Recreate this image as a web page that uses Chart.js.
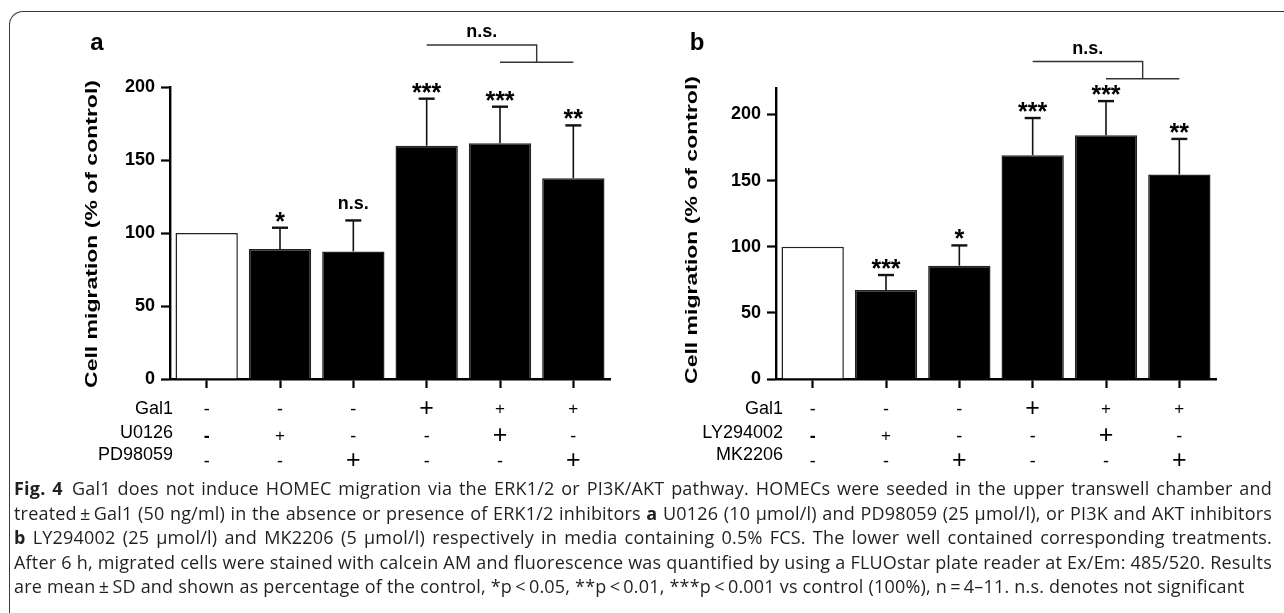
<!DOCTYPE html>
<html>
<head>
<meta charset="utf-8">
<script src="https://cdn.jsdelivr.net/npm/chart.js@4.4.1/dist/chart.umd.min.js"></script>
<style>
  html, body { margin: 0; padding: 0; background: #fff; }
  body { width: 1284px; height: 613px; position: relative; overflow: hidden; }
  #frame { position: absolute; left: 9px; top: 11px; width: 1400px; height: 700px;
    border-left: 1.3px solid #3a3a3a; border-top: 1.3px solid #3a3a3a; border-top-left-radius: 14px; }
  #wrapA { position: absolute; left: 0; top: 0; }
  #wrapB { position: absolute; left: 640px; top: 0; }
  #caption { position: absolute; left: 14px; top: 476px; width: 1258px;
    font-family: "Open Sans", sans-serif; font-size: 18px; letter-spacing: 0.2px; line-height: 24.5px; color: #231f20; }
  #caption div { white-space: nowrap; text-align: justify; text-align-last: justify; }
  #caption div.last { text-align-last: left; }
</style>
</head>
<body>
<div id="frame"></div>
<div id="wrapA"><canvas id="chartA" width="640" height="480"></canvas></div>
<div id="wrapB"><canvas id="chartB" width="644" height="480"></canvas></div>
<div id="caption">
  <div><b>Fig. 4</b>&ensp;Gal1 does not induce HOMEC migration via the ERK1/2 or PI3K/AKT pathway. HOMECs were seeded in the upper transwell chamber and</div>
  <div>treated&thinsp;±&thinsp;Gal1 (50 ng/ml) in the absence or presence of ERK1/2 inhibitors <b>a</b> U0126 (10 µmol/l) and PD98059 (25 µmol/l), or PI3K and AKT inhibitors</div>
  <div><b>b</b> LY294002 (25 µmol/l) and MK2206 (5 µmol/l) respectively in media containing 0.5% FCS. The lower well contained corresponding treatments.</div>
  <div>After 6 h, migrated cells were stained with calcein AM and fluorescence was quantified by using a FLUOstar plate reader at Ex/Em: 485/520. Results</div>
  <div class="last">are mean&thinsp;±&thinsp;SD and shown as percentage of the control, *p&thinsp;&lt;&thinsp;0.05, **p&thinsp;&lt;&thinsp;0.01, ***p&thinsp;&lt;&thinsp;0.001 vs control (100%), n&thinsp;=&thinsp;4–11. n.s. denotes not significant</div>
</div>
<script>
// panel a: ERK1/2 inhibitors
const groupsA = ['Control', 'U0126', 'PD98059', 'Gal1', 'Gal1 + U0126', 'Gal1 + PD98059'];
const meanA = [100, 89, 87.4, 159.8, 161.4, 137.5];
const sdA = [0, 14.6, 21.2, 32.2, 25.1, 36.2];
const sigA = ['', '*', 'n.s.', '***', '***', '**'];
const gal1A = ['-', '-', '-', '+', '+', '+'];
const u0126A = ['-', '+', '-', '-', '+', '-'];
const pd98059A = ['-', '-', '+', '-', '-', '+'];

// panel b: PI3K / AKT inhibitors
const groupsB = ['Control', 'LY294002', 'MK2206', 'Gal1', 'Gal1 + LY294002', 'Gal1 + MK2206'];
const meanB = [100, 67.3, 85.7, 169.2, 184.2, 154.6];
const sdB = [0, 11.3, 15.3, 28.1, 25.9, 26.9];
const sigB = ['', '***', '*', '***', '***', '**'];
const gal1B = ['-', '-', '-', '+', '+', '+'];
const ly294002B = ['-', '+', '-', '-', '+', '-'];
const mk2206B = ['-', '-', '+', '-', '-', '+'];

const yTicksA = { max: 200, step: 50 };
const yTicksB = { max: 220, step: 50 };

// which "+" marks are printed large in the original table (row-col)
const bigPlus = { '0-3': 1, '1-4': 1, '2-2': 1, '2-5': 1 };

const panelPlugin = {
  id: 'panel',
  afterDatasetsDraw(chart, args, o) {
    const ctx = chart.ctx, xs = chart.scales.x, ys = chart.scales.y;
    ctx.save();
    ctx.fillStyle = '#000';
    ctx.strokeStyle = '#111';

    // error bars (upper only) and significance marks
    o.means.forEach((m, i) => {
      const px = xs.getPixelForValue(i);
      const top = ys.getPixelForValue(m + o.sds[i]);
      if (o.sds[i]) {
        ctx.lineWidth = 1.6;
        ctx.beginPath(); ctx.moveTo(px, ys.getPixelForValue(m)); ctx.lineTo(px, top); ctx.stroke();
        ctx.lineWidth = 2.4;
        ctx.beginPath(); ctx.moveTo(px - 8, top); ctx.lineTo(px + 8, top); ctx.stroke();
      }
      const s = o.sig[i];
      if (!s) return;
      ctx.textAlign = 'center';
      ctx.textBaseline = 'alphabetic';
      if (s[0] === '*') {
        ctx.font = 'bold 25px Arial, "Liberation Sans"';
        ctx.fillText(s, px, top + 2);
      } else {
        ctx.font = 'bold 18px Arial, "Liberation Sans"';
        ctx.fillText(s, px, top - 11);
      }
    });

    // comparison bracket
    const b = o.bracket;
    const x4 = xs.getPixelForValue(3), x5 = xs.getPixelForValue(4), x6 = xs.getPixelForValue(5);
    const mid = (x5 + x6) / 2;
    const yT = ys.getPixelForValue(b.top), yL = ys.getPixelForValue(b.low);
    ctx.strokeStyle = '#333';
    ctx.lineWidth = 1.4;
    ctx.beginPath();
    ctx.moveTo(x4, yT); ctx.lineTo(mid, yT); ctx.lineTo(mid, yL);
    ctx.moveTo(x5, yL); ctx.lineTo(x6, yL);
    ctx.stroke();
    ctx.font = 'bold 18px Arial, "Liberation Sans"';
    ctx.textAlign = 'center';
    ctx.fillText('n.s.', (x4 + mid) / 2, yT - 8);

    // panel letter
    ctx.font = 'bold 24px Arial, "Liberation Sans"';
    ctx.fillText(o.letter, o.letterX, 50);

    // y-axis title, glyphs squeezed like the original
    ctx.save();
    ctx.translate(o.titleX, o.titleY);
    ctx.rotate(-Math.PI / 2);
    ctx.scale(1, 0.72);
    ctx.font = 'bold 23px Arial, "Liberation Sans"';
    ctx.textBaseline = 'middle';
    ctx.fillText('Cell migration (% of control)', 0, 0);
    ctx.restore();

    // treatment table under the axis
    const labelY = [409, 433.5, 455];
    const signY = [409, 436, 461];
    o.rows.forEach((row, r) => {
      ctx.font = '18px Arial, "Liberation Sans"';
      ctx.textAlign = 'right';
      ctx.textBaseline = 'middle';
      ctx.fillText(row[0], o.labelRight, labelY[r]);
      ctx.textAlign = 'center';
      row[1].forEach((sg, i) => {
        const px = xs.getPixelForValue(i);
        if (sg === '+') {
          ctx.font = (bigPlus[r + '-' + i] ? '25px' : '17px') + ' Arial, "Liberation Sans"';
          ctx.fillText('+', px, signY[r]);
        } else {
          ctx.font = (r === 1 && i === 0 ? 'bold ' : '') + '18px Arial, "Liberation Sans"';
          ctx.fillText('-', px, signY[r] + 1);
        }
      });
    });
    ctx.restore();
  }
};

function makeChart(id, c) {
  return new Chart(document.getElementById(id), {
    type: 'bar',
    data: {
      labels: c.labels,
      datasets: [{
        data: c.means,
        backgroundColor: c.means.map((v, i) => i === 0 ? '#fff' : '#000'),
        borderColor: '#222',
        borderWidth: 1.5,
        barPercentage: 0.85,
        categoryPercentage: 1
      }]
    },
    options: {
      responsive: false,
      animation: false,
      layout: { padding: { left: 0, right: c.padRight, top: c.padTop, bottom: 91 } },
      plugins: { legend: { display: false }, tooltip: { enabled: false }, panel: c.panel },
      scales: {
        x: {
          grid: { display: true, drawOnChartArea: false, offset: false, tickLength: 9, tickWidth: 2.2, color: '#000' },
          border: { display: true, width: 2.4, color: '#000' },
          ticks: { display: false },
          afterFit(s) { s.height = 10; }
        },
        y: {
          min: 0, max: c.yTicks.max,
          grid: { drawOnChartArea: false, tickLength: 9, tickWidth: 2.2, color: '#000' },
          border: { display: true, width: 2.4, color: '#000' },
          ticks: { stepSize: c.yTicks.step, includeBounds: false, color: '#000', padding: 6,
            font: { family: 'Arial, "Liberation Sans"', size: 18, weight: 'bold' } },
          afterFit(s) { s.width = c.axisLeft; }
        }
      }
    },
    plugins: [panelPlugin]
  });
}

makeChart('chartA', {
  labels: groupsA, means: meanA, yTicks: yTicksA,
  axisLeft: 170, padRight: 30, padTop: 87,
  panel: {
    means: meanA, sds: sdA, sig: sigA,
    bracket: { top: 228.8, low: 217 },
    letter: 'a', letterX: 97, titleX: 92, titleY: 234, labelRight: 173,
    rows: [['Gal1', gal1A], ['U0126', u0126A], ['PD98059', pd98059A]]
  }
});

makeChart('chartB', {
  labels: groupsB, means: meanB, yTicks: yTicksB,
  axisLeft: 136, padRight: 68, padTop: 88,
  panel: {
    means: meanB, sds: sdB, sig: sigB,
    bracket: { top: 240, low: 227 },
    letter: 'b', letterX: 57, titleX: 52, titleY: 230, labelRight: 143,
    rows: [['Gal1', gal1B], ['LY294002', ly294002B], ['MK2206', mk2206B]]
  }
});
</script>
</body>
</html>
